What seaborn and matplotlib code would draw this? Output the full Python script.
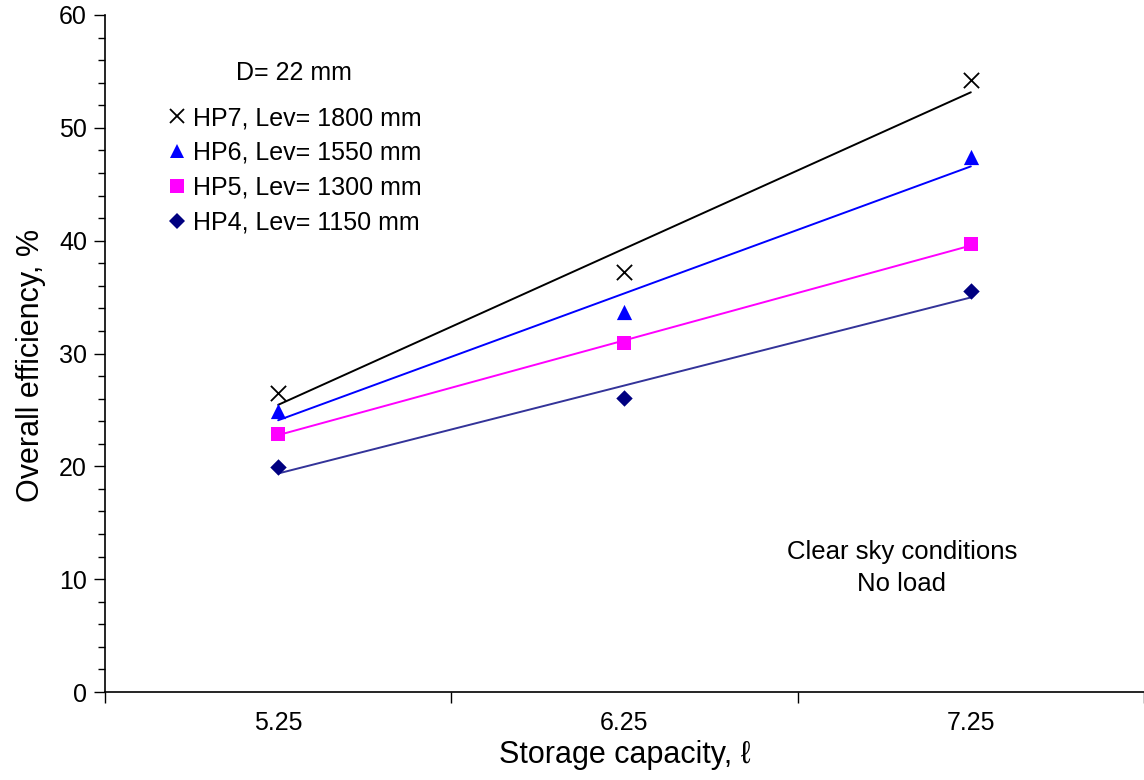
import numpy as np
import pandas as pd
import matplotlib
matplotlib.use("Agg")
import matplotlib.pyplot as plt
import seaborn as sns
from matplotlib.ticker import FixedLocator, MultipleLocator, NullFormatter
from matplotlib.lines import Line2D

capacity = [5.25, 6.25, 7.25]
hp7 = [26.5, 37.2, 54.2]
hp6 = [24.9, 33.7, 47.4]
hp5 = [22.9, 30.9, 39.7]
hp4 = [19.9, 26.1, 35.5]
series_labels = ["HP7, Lev= 1800 mm", "HP6, Lev= 1550 mm",
                 "HP5, Lev= 1300 mm", "HP4, Lev= 1150 mm"]
x_tick_labels = ["5.25", "6.25", "7.25"]

sns.set_theme(style="white")
plt.rcParams['font.family'] = ['Liberation Sans', 'DejaVu Sans']
plt.rcParams['text.color'] = 'black'
plt.rcParams['axes.labelcolor'] = 'black'
plt.rcParams['xtick.color'] = 'black'
plt.rcParams['ytick.color'] = 'black'

fig = plt.figure(figsize=(11.44, 7.8), dpi=100)
ax = fig.add_axes([105/1144, 1-692/780, 1-105/1144, (692-15)/780])

styles = [
    dict(vals=hp7, marker="x", mcolor="black", lcolor="black", s=120, lw_m=1.3),
    dict(vals=hp6, marker="^", mcolor="#0000FF", lcolor="#0000FF", s=120, lw_m=0),
    dict(vals=hp5, marker="s", mcolor="#FF00FF", lcolor="#FF00FF", s=100, lw_m=0),
    dict(vals=hp4, marker="D", mcolor="#000080", lcolor="#333399", s=70, lw_m=0),
]

for st, lab in zip(styles, series_labels):
    df = pd.DataFrame({"x": capacity, "y": st["vals"]})
    sns.regplot(data=df, x="x", y="y", ax=ax, scatter=False, ci=None, truncate=True,
                line_kws=dict(color=st["lcolor"], lw=1.4))
    sns.scatterplot(data=df, x="x", y="y", ax=ax, marker=st["marker"],
                    color=st["mcolor"], s=st["s"], linewidth=st["lw_m"],
                    edgecolor=st["mcolor"] if st["marker"] != "x" else None, zorder=5)

ax.set_xlim(4.75, 7.75)
ax.set_ylim(0, 60)
ax.xaxis.set_major_locator(FixedLocator([4.75, 5.75, 6.75, 7.75]))
ax.xaxis.set_major_formatter(NullFormatter())
ax.xaxis.set_minor_locator(FixedLocator(capacity))
ax.set_xticklabels(x_tick_labels, minor=True)
ax.tick_params(axis="x", which="major", direction="out", length=8, width=1, color="black", bottom=True)
ax.tick_params(axis="x", which="minor", length=0, pad=14, labelsize=18)
ax.yaxis.set_major_locator(MultipleLocator(10))
ax.yaxis.set_minor_locator(MultipleLocator(2))
ax.tick_params(axis="y", which="major", direction="out", length=8, width=1, color="black", left=True, labelsize=18, pad=5)
ax.tick_params(axis="y", which="minor", direction="out", length=5, width=1, color="black", left=True)

for sp in ["top", "right"]:
    ax.spines[sp].set_visible(False)
for sp in ["left", "bottom"]:
    ax.spines[sp].set_color("black")
    ax.spines[sp].set_linewidth(1.2)

ax.set_xlabel("Storage capacity, \u2113", fontsize=22, labelpad=3)
ax.set_ylabel("Overall efficiency, %", fontsize=22, labelpad=8)
ax.yaxis.set_label_coords(-0.057, 0.483)

handles = []
for st, lab in zip(styles, series_labels):
    handles.append(Line2D([], [], linestyle="none", marker=st["marker"], color=st["mcolor"],
                          markersize=np.sqrt(st["s"]) * 0.95, markeredgewidth=st["lw_m"] if st["marker"] == "x" else 0,
                          label=lab))
leg = ax.legend(handles=handles, loc="upper left", bbox_to_anchor=(0.052, 0.88),
                frameon=False, fontsize=18, handlelength=0.6, handletextpad=0.35,
                labelspacing=0.43, borderaxespad=0)

ax.text(0.1265, 0.897, "D= 22 mm", transform=ax.transAxes, fontsize=18, ha="left", va="bottom")
ax.text(0.767, 0.183, "Clear sky conditions\nNo load", transform=ax.transAxes, fontsize=18.5,
        ha="center", va="center", linespacing=1.45)

fig.savefig("out.png", dpi=100)
